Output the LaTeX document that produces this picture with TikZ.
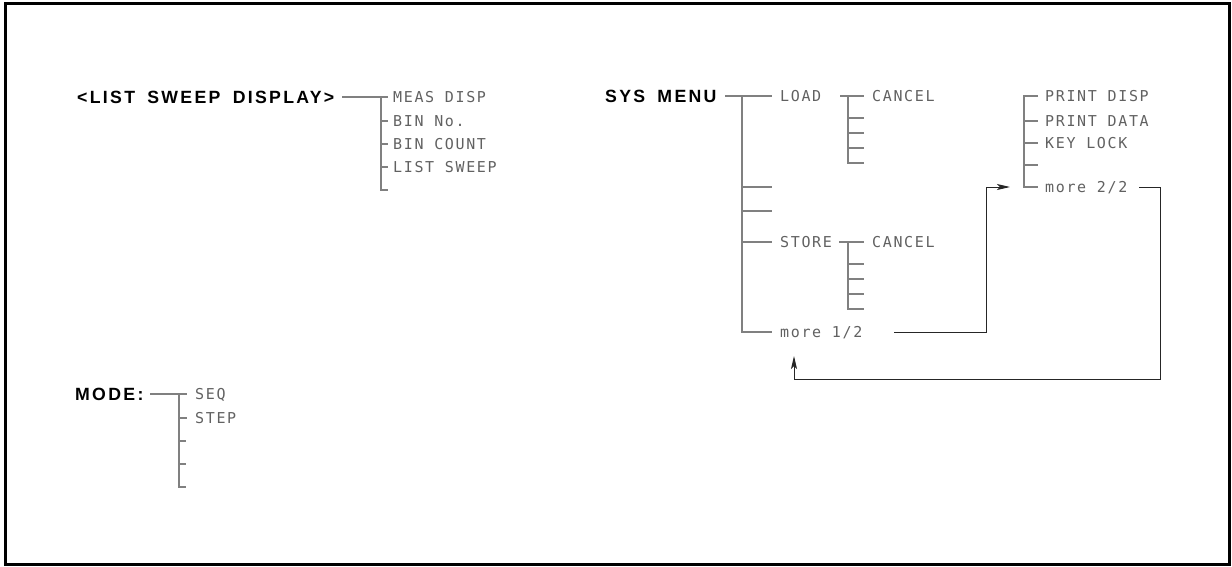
\documentclass[tikz,border=0pt]{standalone}
\usepackage{fontspec}
\newfontfamily\lblfont[LetterSpace=11]{DejaVu Sans Mono}
\newfontfamily\ttlfont[LetterSpace=13,WordSpace=1.7]{Liberation Sans}
\usetikzlibrary{arrows.meta}
\begin{document}
\begin{tikzpicture}[x=1pt,y=-1pt,
  lbl/.style={font=\lblfont\fontsize{15}{15}\selectfont, text=black!62, inner sep=0pt, anchor=west, text height=10.9pt, text depth=0pt},
  ttl/.style={font=\ttlfont\bfseries\fontsize{17.7}{18}\selectfont, inner sep=0pt, anchor=west, text height=12.7pt, text depth=0pt},
  conn/.style={draw=black!50, line width=1.4pt},
  link/.style={draw=black!85, line width=1pt},
  tip/.style={-{Stealth[length=13pt,width=6pt,inset=3pt]}}
]
\useasboundingbox (0,0) rectangle (1232,566);
\draw[line width=3pt] (5,3.5) rectangle (1229.5,564);

% LIST SWEEP DISPLAY
\node[ttl] (lsd) at (77,97) {<LIST SWEEP DISPLAY>};
\coordinate (lsT) at (381,97);
\node[lbl] (ls1) at (393,97) {MEAS DISP};
\node[lbl] (ls2) at (393,121) {BIN No.};
\node[lbl] (ls3) at (393,144) {BIN COUNT};
\node[lbl] (ls4) at (393,167) {LIST SWEEP};
\coordinate (ls5) at (388,190);
\draw[conn] ([xshift=-39pt]lsT) -- ([xshift=-5pt]ls1.west);
\draw[conn] (lsT) |- (ls5);
\foreach \n in {ls2,ls3,ls4} \draw[conn] (lsT |- \n.west) -- ([xshift=-5pt]\n.west);

% SYS MENU
\node[ttl] (sys) at (605,96) {SYS MENU};
\coordinate (sysT) at (742,96);
\node[lbl] (load) at (780,96) {LOAD};
\coordinate (s2) at (772,187);
\coordinate (s3) at (772,211);
\node[lbl] (store) at (780,242) {STORE};
\node[lbl] (more1) at (780,332) {more 1/2};
\draw[conn] ([xshift=-17pt]sysT) -- ([xshift=-8pt]load.west);
\draw[conn] (sysT) |- ([xshift=-8pt]more1.west);
\draw[conn] (sysT |- s2) -- (s2);
\draw[conn] (sysT |- s3) -- (s3);
\draw[conn] (sysT |- store.west) -- ([xshift=-8pt]store.west);

% LOAD submenu
\coordinate (lT) at (848,96);
\node[lbl] (lc) at (872,96) {CANCEL};
\coordinate (l2) at (864,118);
\coordinate (l3) at (864,133);
\coordinate (l4) at (864,148);
\coordinate (l5) at (864,163);
\draw[conn] ([xshift=-8pt]lT) -- ([xshift=-8pt]lc.west);
\draw[conn] (lT) |- (l5);
\foreach \n in {l2,l3,l4} \draw[conn] (lT |- \n) -- (\n);

% STORE submenu
\coordinate (sT) at (848,242);
\node[lbl] (sc) at (872,242) {CANCEL};
\coordinate (t2) at (864,264);
\coordinate (t3) at (864,279);
\coordinate (t4) at (864,294);
\coordinate (t5) at (864,309);
\draw[conn] ([xshift=-9pt]sT) -- ([xshift=-8pt]sc.west);
\draw[conn] (sT) |- (t5);
\foreach \n in {t2,t3,t4} \draw[conn] (sT |- \n) -- (\n);

% page 2
\coordinate (pT) at (1024,96);
\node[lbl] (p1) at (1045,96) {PRINT DISP};
\node[lbl] (p2) at (1045,121) {PRINT DATA};
\node[lbl] (p3) at (1045,143) {KEY LOCK};
\coordinate (p4) at (1038,165);
\node[lbl] (more2) at (1045,187) {more 2/2};
\draw[conn] ([xshift=-7pt]p1.west) -- (pT) |- ([xshift=-7pt]more2.west);
\foreach \n in {p2,p3} \draw[conn] (pT |- \n.west) -- ([xshift=-7pt]\n.west);
\draw[conn] (pT |- p4) -- (p4);

% page links
\coordinate (j1) at (986,187);
\coordinate (j2) at (1160,379);
\coordinate (r1) at (894,332);
\coordinate (r2) at (1139,187);
\draw[link,tip] (r1) -| (j1) -- ([xshift=-35pt]more2.west);
\draw[link,tip] (r2) -| (j2) -| ([xshift=14pt,yshift=-24pt]more1.west);

% MODE
\node[ttl] (mode) at (75,394) {MODE:};
\coordinate (mT) at (179,394);
\node[lbl] (m1) at (195,394) {SEQ};
\node[lbl] (m2) at (195,418) {STEP};
\coordinate (m3) at (186,441);
\coordinate (m4) at (186,464);
\coordinate (m5) at (186,487);
\draw[conn] ([xshift=-29pt]mT) -- ([xshift=-8pt]m1.west);
\draw[conn] (mT) |- (m5);
\draw[conn] (mT |- m2.west) -- ([xshift=-8pt]m2.west);
\foreach \n in {m3,m4} \draw[conn] (mT |- \n) -- (\n);
\end{tikzpicture}
\end{document}
